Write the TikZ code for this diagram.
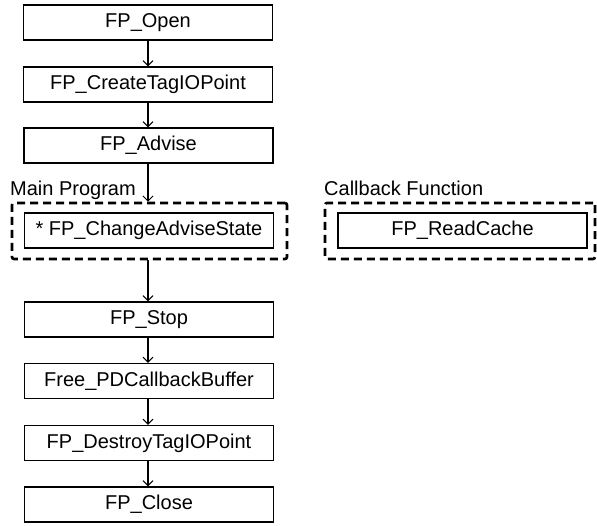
\documentclass[tikz,border=0pt]{standalone}
\usepackage{fontspec}
\setmainfont{Liberation Sans}
\usetikzlibrary{arrows.meta}
\begin{document}
\begin{tikzpicture}[x=1pt,y=-1pt,
  fnbox/.style={draw, line width=1.2pt, minimum width=249pt, minimum height=35pt,
    inner sep=0pt, font=\fontsize{20}{24}\selectfont},
  groupbox/.style={draw, line width=2.6pt, dash pattern=on 8pt off 5pt,
    rounded corners=2pt, inner sep=0pt},
  grouplabel/.style={anchor=base west, inner sep=0pt, font=\fontsize{20}{24}\selectfont},
  flow/.style={line width=1.1pt, -{Straight Barb[length=5pt,width=10pt,line width=1pt]}}]
  \useasboundingbox (0,0) rectangle (597,525);

  % main column of calls
  \node[fnbox] (open)    at (148,22.5)  {FP\_Open};
  \node[fnbox] (create)  at (148,84.5)  {FP\_CreateTagIOPoint};
  \node[fnbox] (advise)  at (148.5,145.5) {FP\_Advise};
  \node[fnbox] (change)  at (149,230.5) {* FP\_ChangeAdviseState};
  \node[fnbox] (stop)    at (149,319.5) {FP\_Stop};
  \node[fnbox] (free)    at (149,381)   {Free\_PDCallbackBuffer};
  \node[fnbox] (destroy) at (149,443)   {FP\_DestroyTagIOPoint};
  \node[fnbox] (close)   at (149,504.5) {FP\_Close};

  % callback column
  \node[fnbox] (cache)   at (462.5,230.5) {FP\_ReadCache};

  % dashed groups
  \node[groupbox, minimum width=275pt, minimum height=56pt] (maingrp) at (149.5,231) {};
  \node[groupbox, minimum width=270pt, minimum height=56pt] (cbgrp)   at (460,231) {};
  \node[grouplabel] (mainlbl) at (10,195) {Main Program};
  \node[grouplabel] (cblbl)   at (324,195) {Callback Function};

  % connectors
  \draw[flow] (open.south -| create.north) -- (create.north);
  \draw[flow] (create.south) -- (create.south |- advise.north);
  \draw[flow] (create.south |- advise.south) -- (create.south |- maingrp.north);
  \draw[flow] (create.south |- maingrp.south) -- (create.south |- stop.north);
  \draw[flow] (create.south |- stop.south) -- (create.south |- free.north);
  \draw[flow] (create.south |- free.south) -- (create.south |- destroy.north);
  \draw[flow] (create.south |- destroy.south) -- (create.south |- close.north);
\end{tikzpicture}
\end{document}
